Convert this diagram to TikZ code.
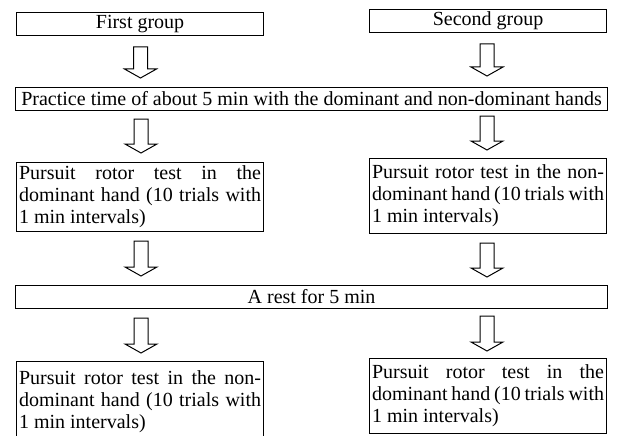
\documentclass[tikz,border=0pt]{standalone}
\usepackage{fontspec}
\setmainfont{Liberation Serif}
\usetikzlibrary{calc}
\tikzset{
  box/.style={draw, line width=1.1pt, inner sep=0pt, anchor=north west,
    font=\fontsize{20}{22}\selectfont},
  onebox/.style={box, align=center},
  parbox/.style={box, text width=242pt, inner xsep=2.5pt, align=justify},
  arrowline/.style={draw, line width=1pt, line join=miter}
}
\newcommand\hollowarrow[2]{%
  \draw[arrowline] ($(#1)+(-7,0)$) -- ($(#2)+(-7,9)$) -- ($(#2)+(-16,9)$) -- (#2)
    -- ($(#2)+(16,9)$) -- ($(#2)+(7,9)$) -- ($(#1)+(7,0)$) -- cycle;}
\begin{document}
\begin{tikzpicture}[x=1pt,y=1pt]
\path[use as bounding box, clip] (0,0) rectangle (621,-436);
\tolerance=10000 \hbadness=10000
% boxes
\node[onebox, minimum width=247pt, minimum height=23pt] (fg) at (16,-12) {First group};
\node[onebox, minimum width=237pt, minimum height=23pt] (sg) at (369,-9) {Second group};
\node[onebox, minimum width=592pt, minimum height=23pt] (prac) at (15,-87)
  {Practice time of about 5 min with the dominant and non-dominant hands};
\node[parbox, minimum height=69pt] (lp1) at (16,-162)
  {Pursuit rotor test in the\linebreak dominant hand (10 trials with\linebreak 1 min intervals)};
\node[parbox, text width=232pt, minimum height=75pt] (rp1) at (369,-158)
  {Pursuit rotor test in the non-\linebreak dominant hand (10 trials with\linebreak 1 min intervals)};
\node[onebox, minimum width=592pt, minimum height=23pt] (rest) at (15,-285) {A rest for 5 min};
\node[parbox, minimum height=80pt] (lp2) at (16,-361)
  {Pursuit rotor test in the non-\linebreak dominant hand (10 trials with\linebreak 1 min intervals)};
\node[parbox, text width=232pt, minimum height=75pt] (rp2) at (369,-358)
  {Pursuit rotor test in the\linebreak dominant hand (10 trials with\linebreak 1 min intervals)};
% arrow end points
\coordinate (a1s) at (140.5,-47);  \coordinate (a1e) at (140.5,-78);
\coordinate (b1s) at (487,-44);  \coordinate (b1e) at (487,-76);
\coordinate (a2s) at (141,-119); \coordinate (a2e) at (141,-153);
\coordinate (b2s) at (487,-116); \coordinate (b2e) at (487,-150);
\coordinate (a3s) at (141,-241); \coordinate (a3e) at (141,-276);
\coordinate (b3s) at (487,-243); \coordinate (b3e) at (487,-277);
\coordinate (a4s) at (141,-318); \coordinate (a4e) at (141,-353);
\coordinate (b4s) at (487,-316); \coordinate (b4e) at (487,-351);
\hollowarrow{a1s}{a1e}
\hollowarrow{b1s}{b1e}
\hollowarrow{a2s}{a2e}
\hollowarrow{b2s}{b2e}
\hollowarrow{a3s}{a3e}
\hollowarrow{b3s}{b3e}
\hollowarrow{a4s}{a4e}
\hollowarrow{b4s}{b4e}
\end{tikzpicture}
\end{document}
